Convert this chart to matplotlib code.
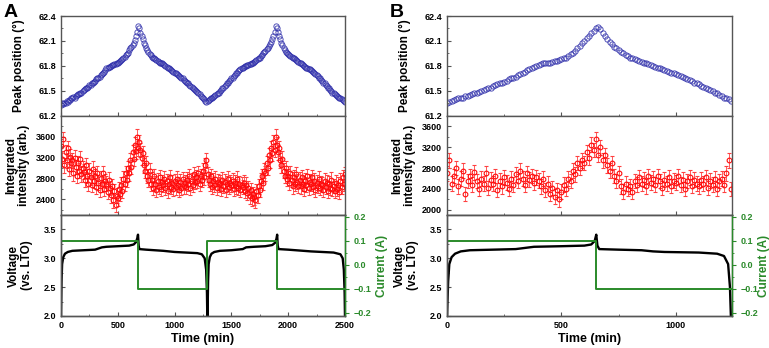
import matplotlib
matplotlib.use('Agg')
import matplotlib.pyplot as plt
import numpy as np
from matplotlib.ticker import MultipleLocator

plt.rcParams['font.family'] = ['Liberation Sans', 'DejaVu Sans']
plt.rcParams['font.weight'] = 'bold'
plt.rcParams['axes.labelweight'] = 'bold'

# ---- panel A data ----
peak_time_a = list(range(0, 2501, 10))
peak_pos_a = [61.33, 61.35, 61.34, 61.36, 61.36, 61.38, 61.37, 61.39, 61.39, 61.41,
              61.41, 61.43, 61.42, 61.44, 61.45, 61.46, 61.46, 61.48, 61.48, 61.50,
              61.51, 61.52, 61.53, 61.54, 61.55, 61.57, 61.57, 61.59, 61.60, 61.61,
              61.62, 61.64, 61.65, 61.66, 61.67, 61.69, 61.70, 61.72, 61.73, 61.75,
              61.77, 61.78, 61.79, 61.79, 61.80, 61.81, 61.81, 61.82, 61.82, 61.83,
              61.84, 61.85, 61.86, 61.87, 61.88, 61.90, 61.91, 61.93, 61.94, 61.96,
              61.99, 62.01, 62.03, 62.05, 62.08, 62.11, 62.16, 62.21, 62.28, 62.25,
              62.20, 62.16, 62.12, 62.08, 62.05, 62.02, 61.99, 61.97, 61.94, 61.93,
              61.91, 61.90, 61.89, 61.88, 61.87, 61.86, 61.85, 61.84, 61.84, 61.83,
              61.82, 61.81, 61.80, 61.79, 61.78, 61.77, 61.76, 61.75, 61.74, 61.73,
              61.72, 61.71, 61.70, 61.69, 61.68, 61.67, 61.66, 61.65, 61.63, 61.62,
              61.61, 61.60, 61.59, 61.57, 61.56, 61.55, 61.54, 61.52, 61.51, 61.50,
              61.49, 61.47, 61.46, 61.44, 61.43, 61.41, 61.40, 61.38, 61.37, 61.38,
              61.39, 61.40, 61.41, 61.42, 61.43, 61.44, 61.45, 61.46, 61.47, 61.48,
              61.50, 61.51, 61.53, 61.54, 61.56, 61.57, 61.59, 61.60, 61.62, 61.63,
              61.65, 61.66, 61.68, 61.69, 61.71, 61.72, 61.74, 61.75, 61.76, 61.77,
              61.78, 61.79, 61.80, 61.80, 61.81, 61.81, 61.82, 61.82, 61.83, 61.84,
              61.85, 61.86, 61.87, 61.88, 61.89, 61.90, 61.92, 61.93, 61.95, 61.97,
              61.98, 62.00, 62.02, 62.04, 62.06, 62.09, 62.12, 62.16, 62.21, 62.28,
              62.26, 62.21, 62.16, 62.12, 62.08, 62.05, 62.02, 61.99, 61.97, 61.95,
              61.94, 61.93, 61.92, 61.91, 61.90, 61.89, 61.88, 61.87, 61.86, 61.85,
              61.84, 61.83, 61.82, 61.81, 61.80, 61.79, 61.78, 61.77, 61.76, 61.76,
              61.75, 61.74, 61.73, 61.72, 61.70, 61.69, 61.68, 61.66, 61.65, 61.63,
              61.62, 61.60, 61.59, 61.57, 61.56, 61.54, 61.53, 61.51, 61.50, 61.48,
              61.47, 61.46, 61.45, 61.44, 61.43, 61.42, 61.41, 61.40, 61.39, 61.38,
              61.37]

int_time_a = list(range(0, 2501, 10))
intensity_a = [3420, 3180, 3560, 3050, 3300, 3150, 3380, 2980, 3220, 3090,
               3150, 2900, 3200, 3020, 2850, 3100, 2950, 3180, 2880, 3000,
               2930, 2780, 3060, 2850, 2700, 2950, 2820, 2680, 2990, 2760,
               2850, 2640, 2900, 2720, 2580, 2810, 2690, 2900, 2600, 2750,
               2700, 2550, 2780, 2620, 2480, 2650, 2380, 2560, 2300, 2470,
               2420, 2600, 2500, 2680, 2560, 2800, 2700, 2900, 2780, 3000,
               2900, 3150, 3020, 3300, 3180, 3450, 3320, 3600, 3380, 3500,
               3350, 3200, 3280, 3050, 2950, 3100, 2850, 2780, 2950, 2700,
               2780, 2620, 2850, 2700, 2580, 2760, 2640, 2820, 2600, 2730,
               2680, 2800, 2620, 2750, 2560, 2700, 2830, 2640, 2720, 2600,
               2750, 2630, 2800, 2680, 2580, 2740, 2620, 2790, 2650, 2720,
               2640, 2780, 2700, 2850, 2620, 2760, 2680, 2880, 2740, 2820,
               2760, 2900, 2700, 2850, 2780, 2950, 2820, 3050, 3150, 2880,
               2780, 2700, 2850, 2640, 2760, 2680, 2800, 2620, 2740, 2690,
               2720, 2600, 2780, 2660, 2740, 2580, 2700, 2800, 2640, 2720,
               2680, 2760, 2600, 2720, 2650, 2800, 2620, 2700, 2580, 2680,
               2640, 2720, 2560, 2680, 2520, 2620, 2460, 2580, 2420, 2500,
               2440, 2380, 2560, 2480, 2650, 2580, 2760, 2850, 2720, 2950,
               2900, 3100, 3000, 3250, 3150, 3380, 3280, 3500, 3350, 3600,
               3450, 3300, 3380, 3150, 3050, 3180, 2950, 2850, 3000, 2800,
               2850, 2720, 2900, 2780, 2650, 2820, 2700, 2880, 2740, 2660,
               2780, 2650, 2820, 2700, 2600, 2760, 2680, 2840, 2620, 2740,
               2700, 2820, 2640, 2760, 2580, 2720, 2660, 2800, 2620, 2700,
               2680, 2580, 2760, 2640, 2720, 2560, 2700, 2620, 2780, 2600,
               2660, 2560, 2720, 2600, 2680, 2540, 2760, 2640, 2820, 2700,
               2880]
intensity_err = 140

volt_time_a = [0, 5, 10, 20, 35, 60, 100, 200, 300, 330, 360, 400, 500, 600, 640, 660,
               672, 678, 684, 690, 750, 900, 1000, 1100, 1200, 1240, 1265, 1278, 1285,
               1288, 1290, 1295, 1300, 1310, 1325, 1350, 1400, 1500, 1600, 1630, 1700,
               1800, 1860, 1885, 1897, 1903, 1908, 1915, 2000, 2200, 2400, 2460, 2480,
               2490, 2497, 2500]
voltage_a = [2.0, 2.6, 2.9, 3.02, 3.08, 3.11, 3.13, 3.14, 3.15, 3.17, 3.19, 3.20, 3.21,
             3.22, 3.24, 3.28, 3.35, 3.41, 3.22, 3.16, 3.15, 3.13, 3.11, 3.10, 3.09,
             3.07, 3.00, 2.80, 2.40, 2.0, 2.0, 2.6, 2.9, 3.02, 3.08, 3.11, 3.13, 3.14,
             3.16, 3.19, 3.20, 3.21, 3.23, 3.27, 3.34, 3.41, 3.22, 3.16, 3.15, 3.12,
             3.10, 3.07, 3.00, 2.80, 2.40, 2.0]

curr_time_a = [0, 678, 1288, 1903, 2500]
current_a = [0.1, -0.1, 0.1, -0.1, -0.1]

# ---- panel B data ----
peak_time_b = list(range(0, 1241, 10))
peak_pos_b = [61.36, 61.37, 61.38, 61.39, 61.40, 61.41, 61.42, 61.42, 61.44, 61.44,
              61.45, 61.46, 61.47, 61.48, 61.49, 61.50, 61.51, 61.52, 61.53, 61.54,
              61.56, 61.57, 61.58, 61.59, 61.60, 61.61, 61.62, 61.64, 61.65, 61.66,
              61.67, 61.69, 61.70, 61.72, 61.73, 61.75, 61.76, 61.78, 61.79, 61.80,
              61.81, 61.82, 61.83, 61.83, 61.84, 61.84, 61.85, 61.86, 61.86, 61.87,
              61.88, 61.89, 61.90, 61.92, 61.94, 61.96, 61.98, 62.01, 62.04, 62.07,
              62.10, 62.13, 62.16, 62.19, 62.22, 62.25, 62.27, 62.24, 62.20, 62.16,
              62.12, 62.09, 62.06, 62.03, 62.01, 61.99, 61.97, 61.95, 61.93, 61.92,
              61.90, 61.89, 61.88, 61.87, 61.86, 61.85, 61.84, 61.83, 61.82, 61.81,
              61.80, 61.79, 61.78, 61.77, 61.76, 61.75, 61.74, 61.73, 61.72, 61.71,
              61.70, 61.69, 61.68, 61.67, 61.66, 61.64, 61.63, 61.62, 61.60, 61.59,
              61.58, 61.56, 61.55, 61.54, 61.52, 61.51, 61.50, 61.48, 61.47, 61.45,
              61.44, 61.42, 61.41, 61.40, 61.38]

int_time_b = list(range(0, 1241, 10))
intensity_b = [2700, 2950, 2500, 2650, 2800, 2450, 2600, 2750, 2300, 2550,
               2650, 2480, 2720, 2550, 2400, 2600, 2500, 2700, 2420, 2580,
               2500, 2650, 2380, 2560, 2450, 2620, 2520, 2400, 2600, 2480,
               2680, 2550, 2750, 2600, 2480, 2700, 2580, 2650, 2520, 2620,
               2560, 2450, 2600, 2380, 2500, 2300, 2420, 2250, 2380, 2200,
               2350, 2480, 2400, 2600, 2550, 2750, 2680, 2900, 2800, 2950,
               2900, 3100, 3000, 3250, 3150, 3350, 3050, 3200, 2950, 3050,
               2850, 2750, 2900, 2650, 2550, 2700, 2450, 2350, 2500, 2400,
               2450, 2350, 2550, 2480, 2620, 2500, 2580, 2450, 2650, 2520,
               2600, 2480, 2650, 2550, 2420, 2580, 2500, 2620, 2460, 2560,
               2520, 2640, 2480, 2580, 2400, 2550, 2620, 2460, 2580, 2500,
               2450, 2580, 2500, 2620, 2420, 2560, 2480, 2600, 2400, 2550,
               2600, 2480, 2700, 2950, 2400]

volt_time_b = [0, 5, 10, 20, 35, 60, 100, 200, 300, 340, 380, 500, 600, 630, 645, 652,
               657, 665, 750, 850, 900, 950, 1100, 1180, 1210, 1228, 1236, 1240]
voltage_b = [2.0, 2.6, 2.9, 3.02, 3.08, 3.12, 3.14, 3.15, 3.16, 3.18, 3.20, 3.21, 3.22,
             3.24, 3.30, 3.41, 3.22, 3.16, 3.15, 3.14, 3.12, 3.11, 3.10, 3.08, 3.04,
             2.90, 2.50, 2.0]

curr_time_b = [0, 652, 1240]
current_b = [0.1, -0.1, -0.1]

BLUE = '#2a2aa8'
RED = '#ff0a0a'
GREEN = '#2a8a2a'
SPINE = '#555555'

fig = plt.figure(figsize=(7.69, 3.48), dpi=100)


def style_axis(ax):
    for s in ax.spines.values():
        s.set_color(SPINE)
        s.set_linewidth(1.0)
    ax.tick_params(which='both', direction='in', labelsize=6.5, color=SPINE)
    ax.tick_params(which='major', length=3)
    ax.tick_params(which='minor', length=1.5)


def draw_panel(left, width, xmax, t_peak, peak, t_int, inten, ilim, iticks,
               t_volt, volt, t_cur, cur, letter, cur_label_x):
    ax1 = fig.add_axes([left, 0.667, width, 0.287])
    ax2 = fig.add_axes([left, 0.382, width, 0.285])
    ax3 = fig.add_axes([left, 0.092, width, 0.290])

    ax1.plot(t_peak, peak, 'o', mfc='none', mec=BLUE, ms=3.8, mew=0.7, alpha=0.8)
    ax1.set_ylim(61.2, 62.4)
    ax1.set_yticks([61.2, 61.5, 61.8, 62.1, 62.4])
    ax1.yaxis.set_minor_locator(MultipleLocator(0.15))
    ax1.set_ylabel('Peak position (\u00b0)', fontsize=8.5)

    ax2.errorbar(t_int, inten, yerr=intensity_err, fmt='o', color=RED, mfc='none',
                 mec=RED, ms=3.4, mew=0.8, ecolor='#ff4040', elinewidth=0.6,
                 capsize=1.2, capthick=0.6)
    ax2.set_ylim(*ilim)
    ax2.set_yticks(iticks)
    ax2.yaxis.set_minor_locator(MultipleLocator(200))
    ax2.set_ylabel('Integrated\nintensity (arb.)', fontsize=8.5, linespacing=1.15)

    ax3.plot(t_volt, volt, color='black', lw=1.7)
    ax3.set_ylim(2.0, 3.75)
    ax3.set_yticks([2.0, 2.5, 3.0, 3.5])
    ax3.yaxis.set_minor_locator(MultipleLocator(0.25))
    ax3.set_ylabel('Voltage\n(vs. LTO)', fontsize=8.5, linespacing=1.15)
    ax3.set_xlabel('Time (min)', fontsize=9, labelpad=2)

    ax4 = ax3.twinx()
    ax4.step(t_cur, cur, where='post', color=GREEN, lw=1.4)
    ax4.set_ylim(-0.214, 0.207)
    ax4.set_yticks([-0.2, -0.1, 0.0, 0.1, 0.2])
    ax4.yaxis.set_minor_locator(MultipleLocator(0.05))
    ax4.set_ylabel('Current (A)', fontsize=8.5, color=GREEN)

    for ax in (ax1, ax2, ax3):
        style_axis(ax)
        ax.set_xlim(0, xmax)
        ax.xaxis.set_major_locator(MultipleLocator(500))
        ax.xaxis.set_minor_locator(MultipleLocator(250))
    ax1.tick_params(labelbottom=False)
    ax2.tick_params(labelbottom=False)
    style_axis(ax4)
    ax4.spines['right'].set_color(GREEN)
    ax4.tick_params(which='both', direction='out', colors=GREEN)

    ax1.yaxis.set_label_coords(-0.125, 0.5)
    ax2.yaxis.set_label_coords(-0.108, 0.5)
    ax3.yaxis.set_label_coords(-0.097, 0.5)
    ax4.yaxis.set_label_coords(cur_label_x, 0.5)

    fig.text(left - 0.066, 0.963, letter, fontsize=14, fontweight='bold',
             ha='center', va='center')


draw_panel(0.0793, 0.3693, 2500, peak_time_a, peak_pos_a, int_time_a, intensity_a,
           (2100, 4000), [2400, 2800, 3200, 3600], volt_time_a, voltage_a,
           curr_time_a, current_a, 'A', 1.11)
draw_panel(0.5813, 0.3706, 1245, peak_time_b, peak_pos_b, int_time_b, intensity_b,
           (1900, 3800), [2000, 2400, 2800, 3200, 3600], volt_time_b, voltage_b,
           curr_time_b, current_b, 'B', 1.09)

fig.savefig('out.png', dpi=100)
